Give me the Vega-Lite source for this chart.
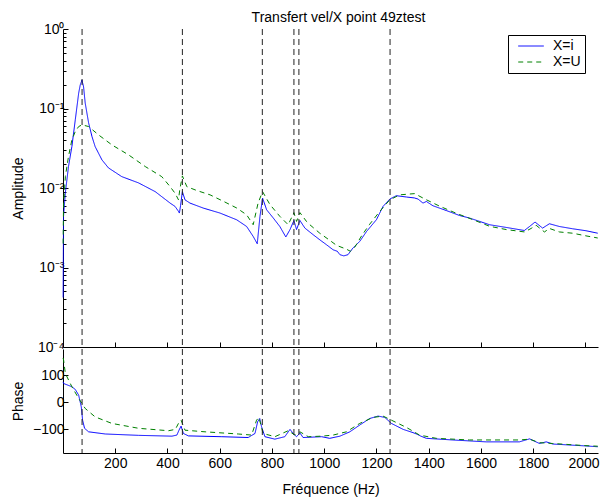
{
  "$schema": "https://vega.github.io/schema/vega-lite/v6.json",
  "width": 535,
  "height": 424,
  "autosize": {"type": "none"},
  "padding": {"left": 63, "top": 29, "right": 2, "bottom": 46},
  "title": {"text": "Transfert vel/X point 49ztest", "frame": "group", "anchor": "middle", "fontSize": 14, "fontWeight": "normal", "font": "Liberation Sans", "color": "black", "baseline": "alphabetic", "offset": 2, "dx": 8, "dy": 16},
  "config": {
    "view": {"stroke": null},
    "font": "Liberation Sans",
    "axis": {"grid": false, "labelFont": "Liberation Sans", "labelFontSize": 14, "labelColor": "black", "titleFont": "Liberation Sans", "titleFontSize": 14, "titleFontWeight": "normal", "titleColor": "black", "domainColor": "black", "tickColor": "black", "domainWidth": 1, "tickWidth": 1},
    "legend": {"orient": "none", "legendX": 445, "legendY": 6, "symbolType": "M-0.12,0H3.82", "symbolSize": 169, "symbolStrokeWidth": 1, "labelFont": "Liberation Sans", "labelFontSize": 14, "labelColor": "black", "padding": 4, "strokeColor": "black", "fillColor": "white", "labelOffset": 27, "rowPadding": 2}
  },
  "datasets": {
    "amp": [
      {"f": 0.5, "a": 0.00042, "s": "X=i"}, {"f": 2, "a": 0.0044, "s": "X=i"}, {"f": 9, "a": 0.0087, "s": "X=i"}, {"f": 21, "a": 0.0186, "s": "X=i"}, {"f": 34, "a": 0.0332, "s": "X=i"}, {"f": 47, "a": 0.072, "s": "X=i"}, {"f": 60, "a": 0.156, "s": "X=i"}, {"f": 66, "a": 0.198, "s": "X=i"}, {"f": 70, "a": 0.215, "s": "X=i"}, {"f": 72.6, "a": 0.229, "s": "X=i"}, {"f": 75, "a": 0.21, "s": "X=i"}, {"f": 78.7, "a": 0.188, "s": "X=i"}, {"f": 85, "a": 0.117, "s": "X=i"}, {"f": 98, "a": 0.066, "s": "X=i"}, {"f": 111, "a": 0.0443, "s": "X=i"}, {"f": 123, "a": 0.0332, "s": "X=i"}, {"f": 149, "a": 0.0226, "s": "X=i"}, {"f": 174, "a": 0.0179, "s": "X=i"}, {"f": 225, "a": 0.0139, "s": "X=i"}, {"f": 289, "a": 0.0116, "s": "X=i"}, {"f": 353, "a": 0.009, "s": "X=i"}, {"f": 410, "a": 0.00646, "s": "X=i"}, {"f": 429, "a": 0.00586, "s": "X=i"}, {"f": 440, "a": 0.0052, "s": "X=i"}, {"f": 445.6, "a": 0.00484, "s": "X=i"}, {"f": 450, "a": 0.006, "s": "X=i"}, {"f": 457, "a": 0.009, "s": "X=i"}, {"f": 467, "a": 0.0071, "s": "X=i"}, {"f": 486, "a": 0.00646, "s": "X=i"}, {"f": 537, "a": 0.00559, "s": "X=i"}, {"f": 601, "a": 0.00484, "s": "X=i"}, {"f": 665, "a": 0.00398, "s": "X=i"}, {"f": 703, "a": 0.00328, "s": "X=i"}, {"f": 728, "a": 0.00246, "s": "X=i"}, {"f": 743.6, "a": 0.00199, "s": "X=i"}, {"f": 754, "a": 0.00439, "s": "X=i"}, {"f": 764, "a": 0.00746, "s": "X=i"}, {"f": 779.5, "a": 0.00532, "s": "X=i"}, {"f": 805, "a": 0.00419, "s": "X=i"}, {"f": 830, "a": 0.00328, "s": "X=i"}, {"f": 853, "a": 0.00242, "s": "X=i"}, {"f": 869, "a": 0.003, "s": "X=i"}, {"f": 884, "a": 0.0039, "s": "X=i"}, {"f": 894, "a": 0.003, "s": "X=i"}, {"f": 907, "a": 0.0039, "s": "X=i"}, {"f": 926, "a": 0.00313, "s": "X=i"}, {"f": 958, "a": 0.00258, "s": "X=i"}, {"f": 983, "a": 0.00223, "s": "X=i"}, {"f": 1009, "a": 0.00193, "s": "X=i"}, {"f": 1034, "a": 0.00167, "s": "X=i"}, {"f": 1050, "a": 0.0016, "s": "X=i"}, {"f": 1060, "a": 0.00145, "s": "X=i"}, {"f": 1075, "a": 0.0014, "s": "X=i"}, {"f": 1091, "a": 0.00145, "s": "X=i"}, {"f": 1110, "a": 0.00176, "s": "X=i"}, {"f": 1136, "a": 0.00213, "s": "X=i"}, {"f": 1162, "a": 0.00284, "s": "X=i"}, {"f": 1200, "a": 0.004, "s": "X=i"}, {"f": 1225, "a": 0.00586, "s": "X=i"}, {"f": 1251, "a": 0.00726, "s": "X=i"}, {"f": 1276, "a": 0.008, "s": "X=i"}, {"f": 1315, "a": 0.0077, "s": "X=i"}, {"f": 1345, "a": 0.0075, "s": "X=i"}, {"f": 1359, "a": 0.00726, "s": "X=i"}, {"f": 1378, "a": 0.00646, "s": "X=i"}, {"f": 1391, "a": 0.00677, "s": "X=i"}, {"f": 1416, "a": 0.00598, "s": "X=i"}, {"f": 1467, "a": 0.00521, "s": "X=i"}, {"f": 1518, "a": 0.00451, "s": "X=i"}, {"f": 1556, "a": 0.00419, "s": "X=i"}, {"f": 1633, "a": 0.00345, "s": "X=i"}, {"f": 1697, "a": 0.00319, "s": "X=i"}, {"f": 1766, "a": 0.00292, "s": "X=i"}, {"f": 1786, "a": 0.00328, "s": "X=i"}, {"f": 1807, "a": 0.00373, "s": "X=i"}, {"f": 1836, "a": 0.00313, "s": "X=i"}, {"f": 1862, "a": 0.00355, "s": "X=i"}, {"f": 1900, "a": 0.00328, "s": "X=i"}, {"f": 1951, "a": 0.00307, "s": "X=i"}, {"f": 2002, "a": 0.0029, "s": "X=i"}, {"f": 2047, "a": 0.0027, "s": "X=i"},
      {"f": 0.5, "a": 0.002, "s": "X=U"}, {"f": 2, "a": 0.006, "s": "X=U"}, {"f": 9, "a": 0.0139, "s": "X=U"}, {"f": 21, "a": 0.0249, "s": "X=U"}, {"f": 34, "a": 0.0403, "s": "X=U"}, {"f": 47, "a": 0.0513, "s": "X=U"}, {"f": 60, "a": 0.0593, "s": "X=U"}, {"f": 73, "a": 0.0623, "s": "X=U"}, {"f": 98, "a": 0.0593, "s": "X=U"}, {"f": 136, "a": 0.0466, "s": "X=U"}, {"f": 187, "a": 0.0349, "s": "X=U"}, {"f": 251, "a": 0.0261, "s": "X=U"}, {"f": 315, "a": 0.0186, "s": "X=U"}, {"f": 378, "a": 0.0139, "s": "X=U"}, {"f": 410, "a": 0.0104, "s": "X=U"}, {"f": 430, "a": 0.0085, "s": "X=U"}, {"f": 442, "a": 0.0071, "s": "X=U"}, {"f": 447, "a": 0.0095, "s": "X=U"}, {"f": 457, "a": 0.0142, "s": "X=U"}, {"f": 474, "a": 0.0104, "s": "X=U"}, {"f": 512, "a": 0.0093, "s": "X=U"}, {"f": 563, "a": 0.0082, "s": "X=U"}, {"f": 614, "a": 0.0068, "s": "X=U"}, {"f": 665, "a": 0.0056, "s": "X=U"}, {"f": 703, "a": 0.0046, "s": "X=U"}, {"f": 728, "a": 0.00345, "s": "X=U"}, {"f": 747, "a": 0.0065, "s": "X=U"}, {"f": 764, "a": 0.009, "s": "X=U"}, {"f": 792, "a": 0.0062, "s": "X=U"}, {"f": 830, "a": 0.0044, "s": "X=U"}, {"f": 862, "a": 0.00345, "s": "X=U"}, {"f": 884, "a": 0.0049, "s": "X=U"}, {"f": 894, "a": 0.0038, "s": "X=U"}, {"f": 907, "a": 0.0049, "s": "X=U"}, {"f": 932, "a": 0.0038, "s": "X=U"}, {"f": 945, "a": 0.00345, "s": "X=U"}, {"f": 983, "a": 0.0027, "s": "X=U"}, {"f": 1021, "a": 0.0022, "s": "X=U"}, {"f": 1047, "a": 0.0019, "s": "X=U"}, {"f": 1085, "a": 0.0017, "s": "X=U"}, {"f": 1100, "a": 0.0016, "s": "X=U"}, {"f": 1117, "a": 0.0018, "s": "X=U"}, {"f": 1143, "a": 0.0025, "s": "X=U"}, {"f": 1174, "a": 0.0035, "s": "X=U"}, {"f": 1213, "a": 0.0051, "s": "X=U"}, {"f": 1251, "a": 0.0071, "s": "X=U"}, {"f": 1289, "a": 0.0082, "s": "X=U"}, {"f": 1346, "a": 0.0085, "s": "X=U"}, {"f": 1384, "a": 0.0073, "s": "X=U"}, {"f": 1442, "a": 0.0059, "s": "X=U"}, {"f": 1506, "a": 0.0048, "s": "X=U"}, {"f": 1569, "a": 0.004, "s": "X=U"}, {"f": 1633, "a": 0.0033, "s": "X=U"}, {"f": 1697, "a": 0.003, "s": "X=U"}, {"f": 1767, "a": 0.0028, "s": "X=U"}, {"f": 1792, "a": 0.0031, "s": "X=U"}, {"f": 1811, "a": 0.0034, "s": "X=U"}, {"f": 1843, "a": 0.0028, "s": "X=U"}, {"f": 1862, "a": 0.0031, "s": "X=U"}, {"f": 1900, "a": 0.0028, "s": "X=U"}, {"f": 1951, "a": 0.0027, "s": "X=U"}, {"f": 2002, "a": 0.0025, "s": "X=U"}, {"f": 2047, "a": 0.00235, "s": "X=U"}
    ],
    "phase": [
      {"f": 0.5, "p": 75, "s": "X=i"}, {"f": 2.3, "p": 69, "s": "X=i"}, {"f": 34, "p": 57, "s": "X=i"}, {"f": 47, "p": 47, "s": "X=i"}, {"f": 60, "p": 26, "s": "X=i"}, {"f": 70, "p": -17, "s": "X=i"}, {"f": 75, "p": -66, "s": "X=i"}, {"f": 82.5, "p": -96, "s": "X=i"}, {"f": 98, "p": -109, "s": "X=i"}, {"f": 162, "p": -117, "s": "X=i"}, {"f": 289, "p": -122, "s": "X=i"}, {"f": 417, "p": -125, "s": "X=i"}, {"f": 436, "p": -121, "s": "X=i"}, {"f": 444, "p": -103, "s": "X=i"}, {"f": 452, "p": -88, "s": "X=i"}, {"f": 461, "p": -115, "s": "X=i"}, {"f": 480, "p": -124, "s": "X=i"}, {"f": 608, "p": -127, "s": "X=i"}, {"f": 709, "p": -130, "s": "X=i"}, {"f": 735, "p": -115, "s": "X=i"}, {"f": 745, "p": -72, "s": "X=i"}, {"f": 753, "p": -60, "s": "X=i"}, {"f": 760, "p": -90, "s": "X=i"}, {"f": 773, "p": -127, "s": "X=i"}, {"f": 811, "p": -136, "s": "X=i"}, {"f": 849, "p": -127, "s": "X=i"}, {"f": 869, "p": -100, "s": "X=i"}, {"f": 881, "p": -115, "s": "X=i"}, {"f": 894, "p": -127, "s": "X=i"}, {"f": 907, "p": -113, "s": "X=i"}, {"f": 919, "p": -130, "s": "X=i"}, {"f": 990, "p": -127, "s": "X=i"}, {"f": 1021, "p": -133, "s": "X=i"}, {"f": 1060, "p": -125, "s": "X=i"}, {"f": 1098, "p": -109, "s": "X=i"}, {"f": 1136, "p": -84, "s": "X=i"}, {"f": 1174, "p": -60, "s": "X=i"}, {"f": 1206, "p": -51, "s": "X=i"}, {"f": 1232, "p": -56, "s": "X=i"}, {"f": 1257, "p": -78, "s": "X=i"}, {"f": 1302, "p": -100, "s": "X=i"}, {"f": 1340, "p": -112, "s": "X=i"}, {"f": 1353, "p": -117, "s": "X=i"}, {"f": 1370, "p": -125, "s": "X=i"}, {"f": 1391, "p": -133, "s": "X=i"}, {"f": 1492, "p": -139, "s": "X=i"}, {"f": 1620, "p": -146, "s": "X=i"}, {"f": 1747, "p": -146, "s": "X=i"}, {"f": 1786, "p": -135, "s": "X=i"}, {"f": 1824, "p": -152, "s": "X=i"}, {"f": 1850, "p": -146, "s": "X=i"}, {"f": 1875, "p": -154, "s": "X=i"}, {"f": 2002, "p": -161, "s": "X=i"}, {"f": 2047, "p": -164, "s": "X=i"},
      {"f": 0.4, "p": 163, "s": "X=U"}, {"f": 2.3, "p": 155, "s": "X=U"}, {"f": 9, "p": 106, "s": "X=U"}, {"f": 34, "p": 57, "s": "X=U"}, {"f": 60, "p": 14, "s": "X=U"}, {"f": 85, "p": -23, "s": "X=U"}, {"f": 123, "p": -54, "s": "X=U"}, {"f": 187, "p": -78, "s": "X=U"}, {"f": 289, "p": -96, "s": "X=U"}, {"f": 404, "p": -105, "s": "X=U"}, {"f": 430, "p": -100, "s": "X=U"}, {"f": 442, "p": -78, "s": "X=U"}, {"f": 452, "p": -66, "s": "X=U"}, {"f": 467, "p": -103, "s": "X=U"}, {"f": 544, "p": -109, "s": "X=U"}, {"f": 671, "p": -117, "s": "X=U"}, {"f": 722, "p": -121, "s": "X=U"}, {"f": 741, "p": -66, "s": "X=U"}, {"f": 750, "p": -56, "s": "X=U"}, {"f": 766, "p": -115, "s": "X=U"}, {"f": 811, "p": -127, "s": "X=U"}, {"f": 862, "p": -105, "s": "X=U"}, {"f": 888, "p": -121, "s": "X=U"}, {"f": 907, "p": -109, "s": "X=U"}, {"f": 939, "p": -127, "s": "X=U"}, {"f": 990, "p": -125, "s": "X=U"}, {"f": 1034, "p": -121, "s": "X=U"}, {"f": 1085, "p": -109, "s": "X=U"}, {"f": 1136, "p": -78, "s": "X=U"}, {"f": 1187, "p": -56, "s": "X=U"}, {"f": 1225, "p": -51, "s": "X=U"}, {"f": 1257, "p": -66, "s": "X=U"}, {"f": 1315, "p": -93, "s": "X=U"}, {"f": 1365, "p": -121, "s": "X=U"}, {"f": 1429, "p": -133, "s": "X=U"}, {"f": 1556, "p": -139, "s": "X=U"}, {"f": 1747, "p": -139, "s": "X=U"}, {"f": 1786, "p": -136, "s": "X=U"}, {"f": 1824, "p": -149, "s": "X=U"}, {"f": 1875, "p": -152, "s": "X=U"}, {"f": 2002, "p": -160, "s": "X=U"}, {"f": 2047, "p": -162, "s": "X=U"}
    ],
    "modes": [{"f": 73}, {"f": 457}, {"f": 763}, {"f": 884}, {"f": 903}, {"f": 1252}]
  },
  "layer": [
    {
      "data": {"name": "amp"},
      "mark": {"type": "line", "strokeWidth": 1},
      "encoding": {
        "x": {"field": "f", "type": "quantitative", "scale": {"domain": [0, 2048], "nice": false}, "axis": {"orient": "bottom", "offset": -106, "values": [200, 400, 600, 800, 1000, 1200, 1400, 1600, 1800, 2000], "labels": false, "tickSize": -5, "title": null}},
        "y": {"field": "a", "type": "quantitative", "scale": {"type": "log", "domain": [0.0001, 1], "range": [318, 0], "nice": false},
          "axis": {"orient": "left", "title": "Amplitude", "titleX": -44.5, "titleY": 159, "titleBaseline": "middle", "labelPadding": 4,
            "values": [0.0001, 0.0002, 0.0003, 0.0004, 0.0005, 0.0006, 0.0007, 0.0008, 0.0009, 0.001, 0.002, 0.003, 0.004, 0.005, 0.006, 0.007, 0.008, 0.009, 0.01, 0.02, 0.03, 0.04, 0.05, 0.06, 0.07, 0.08, 0.09, 0.1, 0.2, 0.3, 0.4, 0.5, 0.6, 0.7, 0.8, 0.9, 1],
            "labelExpr": "abs(log(datum.value)/LN10 - round(log(datum.value)/LN10)) > 0.001 ? '' : ['10⁻⁴','10⁻³','10⁻²','10⁻¹','10⁰'][round(log(datum.value)/LN10) + 4]",
            "tickSize": {"condition": {"test": "abs(log(datum.value)/LN10 - round(log(datum.value)/LN10)) > 0.001", "value": -3}, "value": -5}}},
        "color": {"field": "s", "type": "nominal", "scale": {"domain": ["X=i", "X=U"], "range": ["#0000ff", "#008000"]}, "legend": {"title": null}},
        "strokeDash": {"field": "s", "type": "nominal", "scale": {"domain": ["X=i", "X=U"], "range": [[1, 0], [5, 4]]}, "legend": {"title": null}}
      }
    },
    {
      "data": {"name": "phase"},
      "mark": {"type": "line", "strokeWidth": 1},
      "encoding": {
        "x": {"field": "f", "type": "quantitative", "axis": {"orient": "bottom", "offset": 0, "values": [200, 400, 600, 800, 1000, 1200, 1400, 1600, 1800, 2000], "format": "d", "tickSize": -5, "labelPadding": 8, "labelOffset": {"condition": {"test": "datum.value == 2000", "value": -2}, "value": 0}, "title": "Fréquence (Hz)", "titleY": 40, "titleBaseline": "alphabetic"}},
        "y": {"field": "p", "type": "quantitative", "scale": {"domain": [-187, 196], "range": [424, 320], "nice": false, "zero": false},
          "axis": {"orient": "left", "values": [-100, 0, 100], "tickSize": -5, "labelPadding": 4, "title": "Phase", "titleX": -44.5, "titleY": 372, "titleBaseline": "middle"}},
        "color": {"field": "s", "type": "nominal", "legend": null},
        "strokeDash": {"field": "s", "type": "nominal", "legend": null}
      }
    },
    {
      "data": {"name": "modes"},
      "mark": {"type": "rule", "strokeDash": [6, 4], "color": "#222222", "strokeWidth": 1},
      "encoding": {"x": {"field": "f", "type": "quantitative", "axis": null}}
    }
  ],
  "resolve": {"scale": {"y": "independent"}, "axis": {"x": "independent", "y": "independent"}}
}
